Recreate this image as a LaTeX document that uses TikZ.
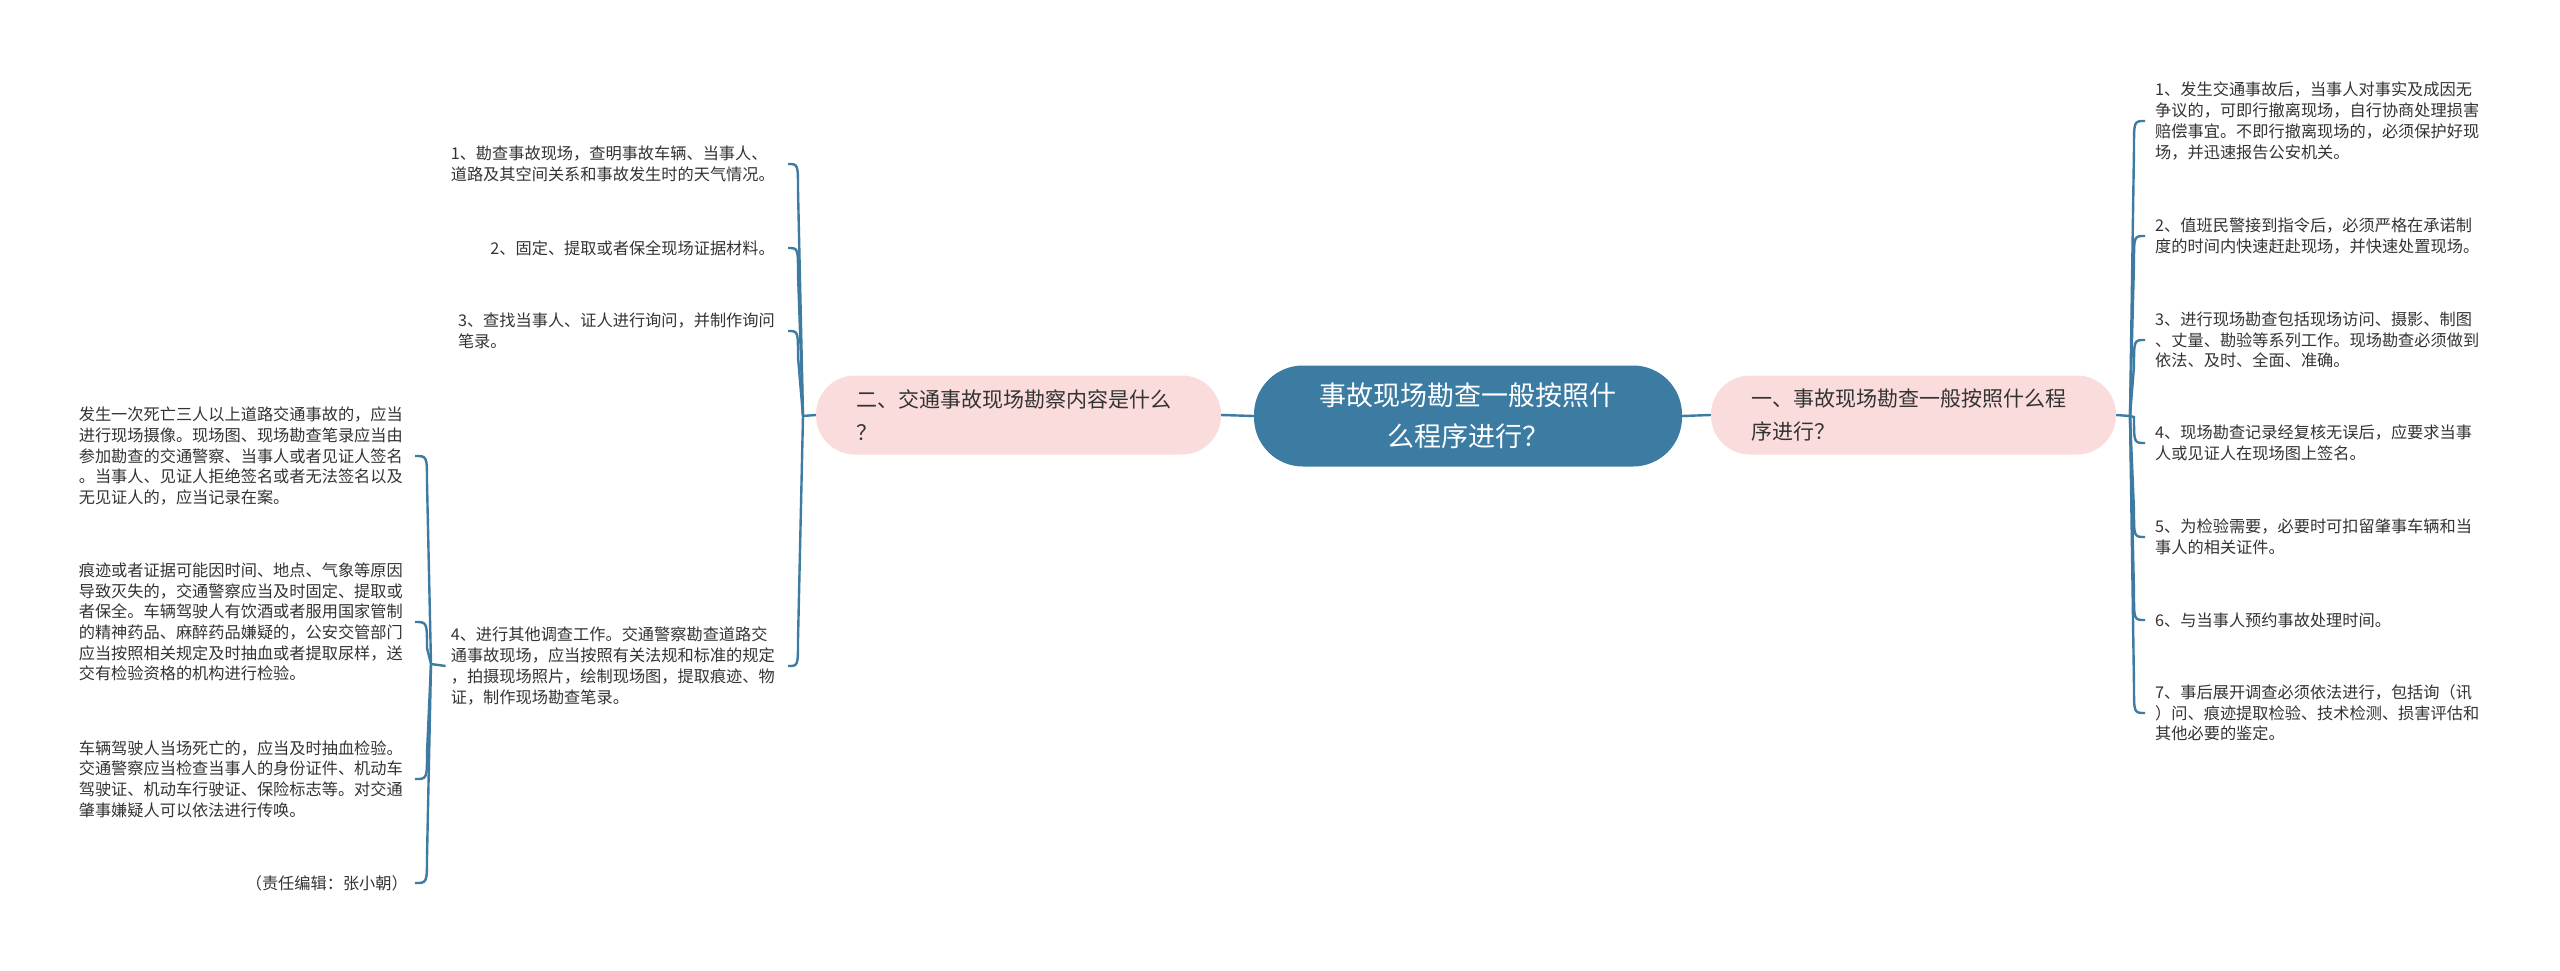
\documentclass[tikz,border=0pt]{standalone}
\usepackage{fontspec}
\setmainfont{Noto Sans CJK SC}
\usetikzlibrary{calc}
\definecolor{lineblue}{HTML}{3E7BA2}
\definecolor{centerblue}{HTML}{3C7BA2}
\definecolor{pinkfill}{HTML}{FBDCDC}
\definecolor{txt}{HTML}{333333}
\begin{document}
\begin{tikzpicture}[x=1pt,y=-1pt,
  conn/.style={draw=lineblue,line width=2.4pt},
  leaf/.style={inner ysep=0pt,align=left,text=txt,font=\fontsize{16.2}{20.7}\selectfont},
  branchbox/.style={fill=pinkfill,rounded corners=39pt,minimum height=79pt,text width=325pt,inner xsep=40pt,inner ysep=0pt,align=left,text=txt,font=\fontsize{21}{33}\selectfont},
  rootbox/.style={fill=centerblue,rounded corners=49pt,minimum height=101pt,text width=308pt,inner xsep=60pt,inner ysep=0pt,align=center,text=white,font=\fontsize{27}{41}\selectfont}]

\useasboundingbox (0,0) rectangle (2560,971);

% root and branches
\node[rootbox] (root) at (1468,416) {事故现场勘查一般按照什\\么程序进行？};
\node[branchbox] (L) at (1018.5,415) {二、交通事故现场勘察内容是什么\\？};
\node[branchbox] (R) at (1913.5,415) {一、事故现场勘查一般按照什么程\\序进行？};

\draw[conn] (root.west) -- (L.east);
\draw[conn] (root.east) -- (R.west);

% right leaves
\begin{scope}[every node/.style={leaf,anchor=west,inner xsep=10pt}]
\node (r1) at (2145,121) {1、发生交通事故后，当事人对事实及成因无\\争议的，可即行撤离现场，自行协商处理损害\\赔偿事宜。不即行撤离现场的，必须保护好现\\场，并迅速报告公安机关。};
\node (r2) at (2145,236) {2、值班民警接到指令后，必须严格在承诺制\\度的时间内快速赶赴现场，并快速处置现场。};
\node (r3) at (2145,340) {3、进行现场勘查包括现场访问、摄影、制图\\、丈量、勘验等系列工作。现场勘查必须做到\\依法、及时、全面、准确。};
\node (r4) at (2145,443) {4、现场勘查记录经复核无误后，应要求当事\\人或见证人在现场图上签名。};
\node (r5) at (2145,537) {5、为检验需要，必要时可扣留肇事车辆和当\\事人的相关证件。};
\node (r6) at (2145,620) {6、与当事人预约事故处理时间。};
\node (r7) at (2145,713) {7、事后展开调查必须依法进行，包括询（讯\\）问、痕迹提取检验、技术检测、损害评估和\\其他必要的鉴定。};
\end{scope}

% left leaves
\begin{scope}[every node/.style={leaf,anchor=east,inner xsep=13pt}]
\node (l1) at (788,164) {1、勘查事故现场，查明事故车辆、当事人、\\道路及其空间关系和事故发生时的天气情况。};
\node (l2) at (788,248) {2、固定、提取或者保全现场证据材料。};
\node (l3) at (788,331) {3、查找当事人、证人进行询问，并制作询问\\笔录。};
\node (l4) at (788,666) {4、进行其他调查工作。交通警察勘查道路交\\通事故现场，应当按照有关法规和标准的规定\\，拍摄现场照片，绘制现场图，提取痕迹、物\\证，制作现场勘查笔录。};
\end{scope}

% left-left leaves
\begin{scope}[every node/.style={leaf,anchor=east,inner xsep=12pt}]
\node (a) at (415,456) {发生一次死亡三人以上道路交通事故的，应当\\进行现场摄像。现场图、现场勘查笔录应当由\\参加勘查的交通警察、当事人或者见证人签名\\。当事人、见证人拒绝签名或者无法签名以及\\无见证人的，应当记录在案。};
\node (b) at (415,622) {痕迹或者证据可能因时间、地点、气象等原因\\导致灭失的，交通警察应当及时固定、提取或\\者保全。车辆驾驶人有饮酒或者服用国家管制\\的精神药品、麻醉药品嫌疑的，公安交管部门\\应当按照相关规定及时抽血或者提取尿样，送\\交有检验资格的机构进行检验。};
\node (c) at (415,779) {车辆驾驶人当场死亡的，应当及时抽血检验。\\交通警察应当检查当事人的身份证件、机动车\\驾驶证、机动车行驶证、保险标志等。对交通\\肇事嫌疑人可以依法进行传唤。};
\node[inner xsep=7pt] (d) at (415,883) {（责任编辑：张小朝）};
\end{scope}

% right bracket
\coordinate (rb) at (2130,416);
\coordinate (rbx) at (2134,416);
\draw[conn] (R.east) -- (rb);
\foreach \n/\s in {r1/1,r2/1,r3/1,r4/-1,r5/-1,r6/-1,r7/-1}
  \draw[conn] (rb) -- ($(rbx |- \n.west)+(0,\s*26)$) .. controls (rbx |- \n.west) .. (\n.west);

% left bracket
\coordinate (lb) at (803,416);
\coordinate (lbx) at (798,416);
\draw[conn] (L.west) -- (lb);
\foreach \n/\s in {l1/1,l2/1,l3/1,l4/-1}
  \draw[conn] (lb) -- ($(lbx |- \n.east)+(0,\s*26)$) .. controls (lbx |- \n.east) .. (\n.east);

% left-left bracket
\coordinate (llb) at (431,664);
\coordinate (llbx) at (427,664);
\draw[conn] ([xshift=8pt]l4.west) -- (llb);
\foreach \n/\s in {a/1,b/1,c/-1,d/-1}
  \draw[conn] (llb) -- ($(llbx |- \n.east)+(0,\s*26)$) .. controls (llbx |- \n.east) .. (\n.east);

\end{tikzpicture}
\end{document}
